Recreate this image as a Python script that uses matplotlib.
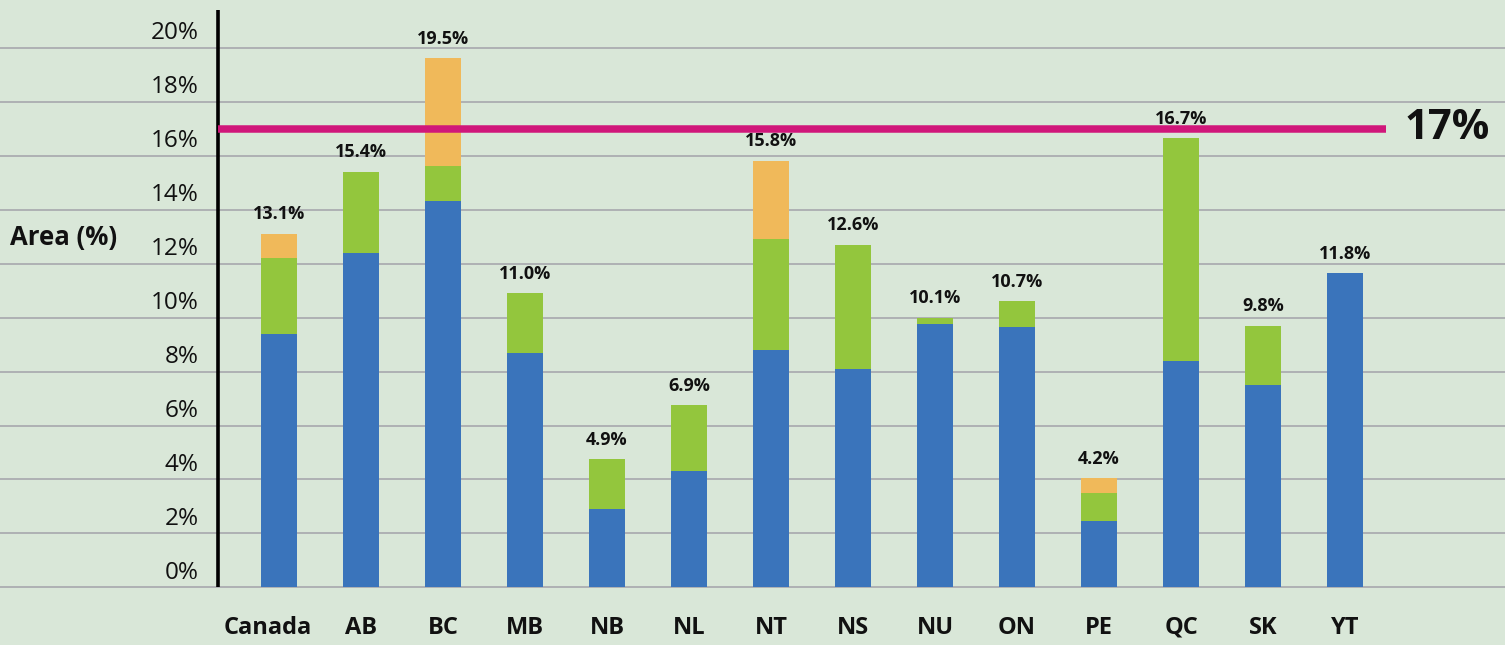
import numpy as np
import matplotlib
matplotlib.use("Agg")
import matplotlib.pyplot as plt

plt.rcParams['font.family'] = ['Open Sans', 'DejaVu Sans']

# data (percent of area)
regions = ["Canada", "AB", "BC", "MB", "NB", "NL", "NT", "NS", "NU", "ON", "PE", "QC", "SK", "YT"]
blue = [9.4, 12.4, 14.3, 8.7, 2.9, 4.3, 8.8, 8.1, 9.75, 9.65, 2.45, 8.4, 7.5, 11.65]
green = [2.8, 3.0, 1.3, 2.2, 1.85, 2.45, 4.1, 4.6, 0.25, 0.95, 1.05, 8.25, 2.2, 0.0]
orange = [0.9, 0.0, 4.0, 0.0, 0.0, 0.0, 2.9, 0.0, 0.0, 0.0, 0.55, 0.0, 0.0, 0.0]
totals = ["13.1%", "15.4%", "19.5%", "11.0%", "4.9%", "6.9%", "15.8%", "12.6%",
          "10.1%", "10.7%", "4.2%", "16.7%", "9.8%", "11.8%"]
yticks = [0, 2, 4, 6, 8, 10, 12, 14, 16, 18, 20]
target = 17

BLUE = "#3a74bb"
GREEN = "#93c63d"
ORANGE = "#f0b95a"
MAGENTA = "#d0177a"
BG = "#d9e7d8"

fig = plt.figure(figsize=(15.05, 6.45), dpi=100)
fig.patch.set_facecolor(BG)
ax = fig.add_axes([0, 0, 1, 1])
ax.set_facecolor(BG)

# axes cover the whole figure; limits chosen so bars land where they do in the picture
ax.set_xlim(-3.402, 14.951)
ax.set_ylim(-2.13, 21.76)
ax.axis('off')

x = np.arange(len(regions))
blue = np.array(blue)
green = np.array(green)
orange = np.array(orange)

# gridlines and y labels
for t in yticks:
    ax.axhline(t, color="#a3a3aa", lw=1.1, zorder=1)
    ax.text(-0.976, t + 0.55, f"{t}%", ha='right', va='center', fontsize=17.5,
            color="#111111", zorder=3)

w = 0.44
ax.bar(x, blue, w, color=BLUE, zorder=2)
ax.bar(x, green, w, bottom=blue, color=GREEN, zorder=2)
ax.bar(x, orange, w, bottom=blue + green, color=ORANGE, zorder=2)

tops = blue + green + orange
for i in range(len(regions)):
    ax.annotate(totals[i], (x[i], tops[i]), xytext=(0, 14), textcoords='offset points',
                ha='center', va='center', fontsize=13, fontweight='bold',
                color="#111111", zorder=4)
    # the Canada label sits a little left of its bar in the original
    dx = -0.14 if i == 0 else 0
    ax.text(x[i] + dx, -1.5, regions[i], ha='center', va='center', fontsize=17,
            fontweight='bold', color="#111111", zorder=3)

# vertical axis line
ax.plot([-0.744, -0.744], [0, 21.4], color="black", lw=2.6, zorder=3,
        solid_capstyle='butt')

# 17% target line
ax.plot([-0.744, 13.5], [target, target], color=MAGENTA, lw=5.4, zorder=3,
        solid_capstyle='butt')
ax.text(13.72, target, f"{target}%", ha='left', va='center', fontsize=30,
        fontweight='bold', color="#111111")

ax.text(-3.28, 12.98, "Area (%)", ha='left', va='center', fontsize=18.5,
        fontweight='bold', color="#111111")

fig.savefig("out.png", dpi=100, facecolor=BG)
